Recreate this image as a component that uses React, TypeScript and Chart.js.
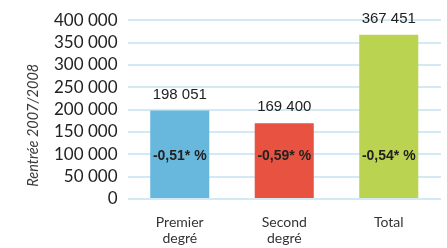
import React, { useEffect, useRef } from "react";
import { Chart, registerables } from "chart.js";

Chart.register(...registerables);

const categories: string[][] = [["Premier", "degré"], ["Second", "degré"], ["Total"]];
const values: number[] = [198051, 169400, 367451];
const valueLabels: string[] = ["198 051", "169 400", "367 451"];
const changeLabels: string[] = ["-0,51* %", "-0,59* %", "-0,54* %"];
const barColors: string[] = ["#67b8dc", "#e85241", "#bad452"];
const yTicks: number[] = [0, 50000, 100000, 150000, 200000, 250000, 300000, 350000, 400000];
const yTitle = "Rentrée 2007/2008";
const changeLabelLevel = 97000;
const yTitleLevel = 165000;

const fmt = (v: number) => {
  const s = String(Math.round(v));
  return s.replace(/\B(?=(\d{3})+(?!\d))/g, " ");
};

const labelPlugin = {
  id: "barLabels",
  afterDatasetsDraw(chart: any) {
    const ctx = chart.ctx;
    const meta = chart.getDatasetMeta(0);
    const yScale = chart.scales.y;
    ctx.save();
    ctx.textAlign = "center";
    ctx.textBaseline = "middle";
    meta.data.forEach((bar: any, i: number) => {
      ctx.fillStyle = "#222222";
      ctx.font = "15px 'Liberation Sans', Arial, sans-serif";
      ctx.fillText(valueLabels[i], bar.x, bar.y - 16);
      ctx.font = "bold 14px 'Liberation Sans', Arial, sans-serif";
      ctx.fillText(changeLabels[i], bar.x, yScale.getPixelForValue(changeLabelLevel));
    });
    // y-axis title
    ctx.translate(yScale.left + 33, yScale.getPixelForValue(yTitleLevel));
    ctx.rotate(-Math.PI / 2);
    ctx.fillStyle = "#3a3a3a";
    ctx.font = "italic 14.5px Lato, sans-serif";
    ctx.fillText(yTitle, 0, 0);
    ctx.restore();
  },
};

export default function App() {
  const ref = useRef<HTMLCanvasElement | null>(null);
  useEffect(() => {
    if (!ref.current) return;
    const chart = new Chart(ref.current, {
      type: "bar",
      data: {
        labels: categories,
        datasets: [
          {
            data: values,
            backgroundColor: barColors,
            borderWidth: 0,
            categoryPercentage: 1,
            barPercentage: 0.565,
          },
        ],
      },
      options: {
        animation: false,
        responsive: true,
        maintainAspectRatio: false,
        layout: { padding: { left: 0, right: 6, top: 14, bottom: 0 } },
        plugins: { legend: { display: false }, tooltip: { enabled: false } },
        scales: {
          x: {
            grid: { display: false, drawTicks: false },
            border: { display: false },
            ticks: {
              color: "#333333",
              font: { family: "Lato", size: 14, lineHeight: 1.15 },
              padding: 15,
              maxRotation: 0,
              autoSkip: false,
            },
            afterFit: (s: any) => {
              s.height = 49;
            },
          },
          y: {
            min: 0,
            max: 400000,
            afterBuildTicks: (s: any) => {
              s.ticks = yTicks.map((v) => ({ value: v }));
            },
            grid: { color: "#d3eaf5", lineWidth: 2, drawTicks: false },
            border: { display: false },
            ticks: {
              color: "#222222",
              font: { family: "Lato", size: 17 },
              padding: 10,
              autoSkip: false,
              callback: (v: any) => fmt(Number(v)),
            },
            title: { display: false },
            afterFit: (s: any) => {
              s.width = 127.5;
            },
          },
        },
      },
      plugins: [labelPlugin],
    });
    return () => chart.destroy();
  }, []);
  return (
    <div style={{ position: "fixed", left: 0, top: 0, width: 447, height: 248 }}>
      <canvas ref={ref} />
    </div>
  );
}
